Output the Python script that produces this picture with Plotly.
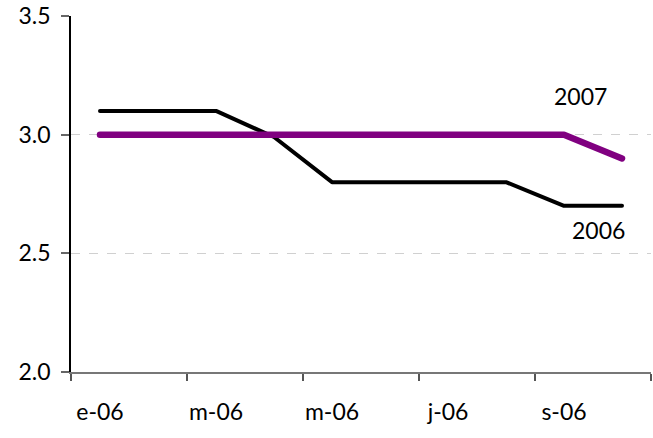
import plotly.graph_objects as go

months = ["e-06", "f-06", "m-06", "a-06", "m-06", "j-06", "j-06", "a-06", "s-06", "o-06"]
y2006 = [3.1, 3.1, 3.1, 2.99, 2.8, 2.8, 2.8, 2.8, 2.7, 2.7]
y2007 = [3.0, 3.0, 3.0, 3.0, 3.0, 3.0, 3.0, 3.0, 3.0, 2.9]
yticks = [2.0, 2.5, 3.0, 3.5]

x = list(range(len(months)))
label_idx = x[::2]
boundaries = [i - 0.5 for i in x[::2]] + [len(months) - 0.5]

font_family = "Lato, 'Open Sans', sans-serif"

fig = go.Figure()
fig.add_trace(go.Scatter(x=x, y=y2006, mode="lines", name="2006",
                         line=dict(color="#000000", width=4)))
fig.add_trace(go.Scatter(x=x, y=y2007, mode="lines", name="2007",
                         line=dict(color="#800080", width=6.5)))

fig.add_annotation(x=8.28, y=3.165, text="2007", showarrow=False,
                   font=dict(size=23, color="#000000", family=font_family))
fig.add_annotation(x=8.59, y=2.598, text="2006", showarrow=False,
                   font=dict(size=23, color="#000000", family=font_family))

fig.update_layout(
    width=653, height=438,
    margin=dict(l=71, r=2, t=16, b=66),
    paper_bgcolor="white", plot_bgcolor="white",
    showlegend=False,
    font=dict(family=font_family, size=23, color="#000000"),
)
fig.update_xaxes(
    range=[-0.5, len(months) - 0.5],
    tickvals=label_idx,
    ticktext=[months[i] for i in label_idx],
    ticks="", showgrid=False, zeroline=False,
    showline=True, linecolor="#777777", linewidth=1.5,
    ticklabelstandoff=19, automargin=False,
    minor=dict(tickvals=boundaries, ticks="outside", ticklen=7,
               tickcolor="#555555", tickwidth=1.5, showgrid=False),
)
fig.update_yaxes(
    range=[2.0, 3.5],
    tickvals=yticks,
    ticktext=[f"{v:.1f}" for v in yticks],
    ticks="outside", ticklen=8, tickcolor="#666666", tickwidth=1.5,
    showgrid=True, gridcolor="#d0d0d0", griddash="dash", gridwidth=1,
    zeroline=False,
    showline=True, linecolor="#000000", linewidth=1.5,
    ticklabelstandoff=6, automargin=False, ticklabeloverflow="allow",
)

post = (
    "document.body.style.margin='0px';"
    "document.querySelectorAll('.scatterlayer path.js-line').forEach(function(p){"
    "p.style.strokeLinecap='round';p.style.strokeLinejoin='round';});"
)
fig.write_html("out.html", post_script=post, config={"displayModeBar": False})
